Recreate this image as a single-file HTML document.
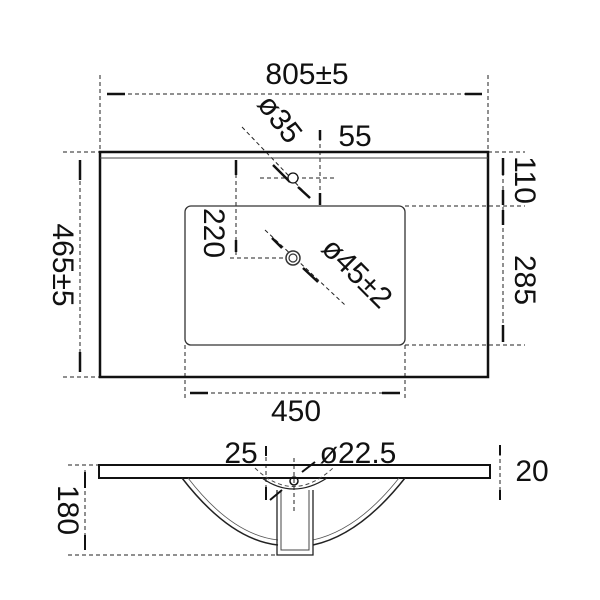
<!DOCTYPE html>
<html><head><style>body{margin:0;background:#fff}svg{display:block}text{font-family:"Liberation Sans",sans-serif;fill:#111;font-size:30px}</style></head><body>
<svg width="600" height="600" viewBox="0 0 600 600" xmlns="http://www.w3.org/2000/svg">
<g fill="none" stroke="#222" stroke-width="1" stroke-dasharray="4,3">
<line x1="100" y1="75" x2="100" y2="152"/><line x1="488" y1="75" x2="488" y2="152"/>
<line x1="107" y1="94" x2="482" y2="94"/>
<line x1="63" y1="152" x2="100" y2="152"/><line x1="63" y1="377" x2="100" y2="377"/>
<line x1="80" y1="160" x2="80" y2="372"/>
<line x1="488" y1="152" x2="525" y2="152"/><line x1="405" y1="206" x2="525" y2="206"/><line x1="405" y1="345" x2="525" y2="345"/>
<line x1="503" y1="158" x2="503" y2="342"/>
<line x1="185" y1="345" x2="185" y2="400"/><line x1="405" y1="345" x2="405" y2="400"/>
<line x1="190" y1="393" x2="400" y2="393"/>
<line x1="242" y1="127" x2="310" y2="198"/>
<line x1="260" y1="178" x2="335" y2="178"/>
<line x1="320" y1="130" x2="320" y2="205"/>
<line x1="236" y1="160" x2="236" y2="258"/>
<line x1="230" y1="258" x2="290" y2="258"/>
<line x1="265" y1="230" x2="345" y2="305"/>
<line x1="68" y1="465" x2="99" y2="465"/><line x1="68" y1="555" x2="275" y2="555"/>
<line x1="85" y1="470" x2="85" y2="550"/>
<line x1="294" y1="458" x2="294" y2="512"/>
<line x1="500" y1="445" x2="500" y2="500"/>
<line x1="266" y1="450" x2="266" y2="500"/>
</g>
<g stroke="#111" stroke-width="2.5" fill="none">
<line x1="107" y1="94" x2="125" y2="94"/><line x1="465" y1="94" x2="482" y2="94"/>
<line x1="80" y1="160" x2="80" y2="180"/><line x1="80" y1="352" x2="80" y2="372"/>
<line x1="503" y1="158" x2="503" y2="175"/><line x1="503" y1="190" x2="503" y2="205"/>
<line x1="503" y1="210" x2="503" y2="225"/><line x1="503" y1="325" x2="503" y2="342"/>
<line x1="190" y1="393" x2="208" y2="393"/><line x1="382" y1="393" x2="400" y2="393"/>
<line x1="320" y1="130" x2="320" y2="140"/><line x1="320" y1="193" x2="320" y2="205"/>
<line x1="236" y1="160" x2="236" y2="175"/><line x1="236" y1="240" x2="236" y2="252"/>
<line x1="273" y1="165" x2="290" y2="182"/><line x1="298" y1="187" x2="310" y2="198"/>
<line x1="272" y1="238" x2="282" y2="248"/><line x1="303" y1="268" x2="318" y2="282"/>
</g>
<rect x="100" y="152" width="388" height="225" fill="none" stroke="#111" stroke-width="2.5"/>
<line x1="100" y1="158" x2="488" y2="158" stroke="#444" stroke-width="1"/>
<rect x="185" y="206" width="220" height="139" rx="6" fill="none" stroke="#333" stroke-width="1.3"/>
<circle cx="293" cy="178" r="5" fill="#fff" stroke="#111" stroke-width="1.3"/>
<circle cx="293" cy="258" r="7" fill="#fff" stroke="#333" stroke-width="1.5"/>
<circle cx="293" cy="258" r="4" fill="none" stroke="#333" stroke-width="1.2"/>
<rect x="99" y="465" width="391" height="13" fill="none" stroke="#111" stroke-width="2"/>
<path d="M182 478 Q230 540 278 545 M405 478 Q360 535 313 545" fill="none" stroke="#222" stroke-width="1.5"/>
<path d="M188 478 Q232 535 278 540 M399 478 Q358 530 313 540" fill="none" stroke="#555" stroke-width="0.8"/>
<path d="M255 468 Q293 505 333 468" fill="none" stroke="#444" stroke-width="1" stroke-dasharray="4,3"/>
<path d="M262 478 Q293 500 327 478" fill="none" stroke="#222" stroke-width="1.2"/>
<path d="M277 490 L277 555 L313 555 L313 490" fill="none" stroke="#222" stroke-width="1.3"/>
<path d="M281 490 L281 550 L309 550 L309 490" fill="none" stroke="#444" stroke-width="1"/>
<circle cx="294" cy="481" r="4" fill="none" stroke="#111" stroke-width="1.5"/>
<g stroke="#111" stroke-width="2">
<line x1="85" y1="472" x2="85" y2="488"/><line x1="85" y1="535" x2="85" y2="550"/>
<line x1="500" y1="445" x2="500" y2="455"/><line x1="500" y1="490" x2="500" y2="500"/>
<line x1="266" y1="446" x2="266" y2="456"/><line x1="266" y1="487" x2="266" y2="500"/>
<line x1="302" y1="472" x2="315" y2="462"/><line x1="270" y1="500" x2="282" y2="490"/>
</g>
<text x="307" y="84" text-anchor="middle">805±5</text>
<text x="355" y="146" text-anchor="middle">55</text>
<text x="296" y="421" text-anchor="middle">450</text>
<text transform="translate(53,265) rotate(90)" text-anchor="middle">465±5</text>
<text transform="translate(515,180) rotate(90)" text-anchor="middle">110</text>
<text transform="translate(515,280) rotate(90)" text-anchor="middle">285</text>
<text transform="translate(204,233) rotate(90)" text-anchor="middle">220</text>
<text transform="translate(272,125) rotate(52)" text-anchor="middle">ø35</text>
<text transform="translate(350,280) rotate(45)" text-anchor="middle">ø45±2</text>
<text transform="translate(58,510) rotate(90)" text-anchor="middle">180</text>
<text x="532" y="481" text-anchor="middle">20</text>
<text x="241" y="463" text-anchor="middle">25</text>
<text x="358" y="463" text-anchor="middle">ø22.5</text>
</svg>
</body></html>
